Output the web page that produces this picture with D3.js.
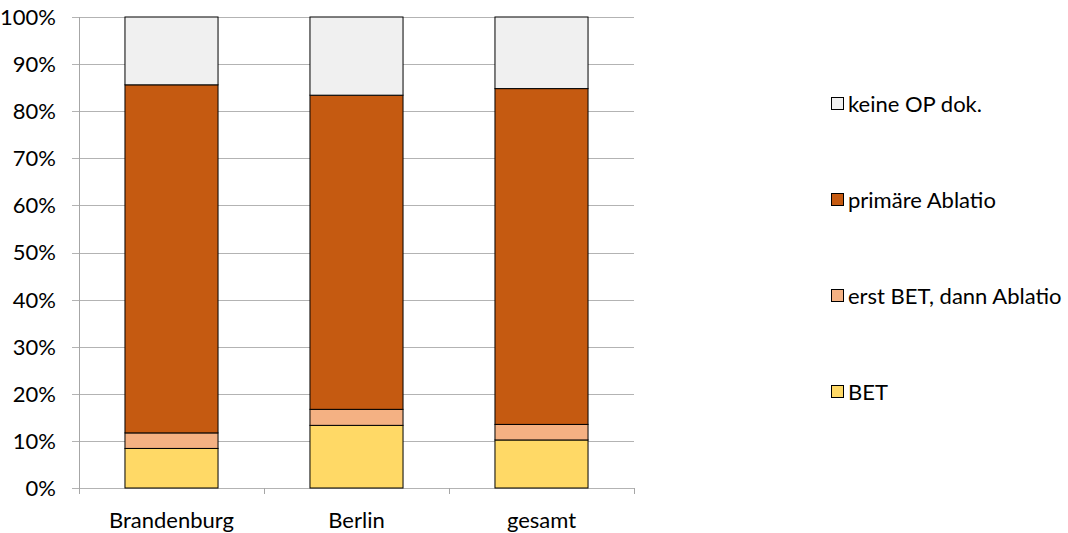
<!DOCTYPE html>
<html>
<head>
<meta charset="utf-8">
<script src="https://cdn.jsdelivr.net/npm/d3@7"></script>
<style>
  html, body { margin: 0; padding: 0; background: #fff; }
  svg text { font-family: Lato, "Open Sans", sans-serif; fill: #000; }
</style>
</head>
<body>
<svg id="chart" width="1068" height="533"></svg>
<script>
const categories = ["Brandenburg", "Berlin", "gesamt"];
const seriesNames = ["BET", "erst BET, dann Ablatio", "primäre Ablatio", "keine OP dok."];
const BET = [8.4, 13.3, 10.2];
const erstBET = [3.3, 3.4, 3.3];
const primaer = [73.9, 66.7, 71.3];
const keineOP = [14.4, 16.6, 15.2];
const yTicks = [0, 10, 20, 30, 40, 50, 60, 70, 80, 90, 100];
const colors = ["#ffd966", "#f4b183", "#c55a11", "#f0f0f0"];

const seriesValues = [BET, erstBET, primaer, keineOP];
const rows = categories.map((c, i) => {
  const r = { cat: c };
  seriesNames.forEach((s, j) => r[s] = seriesValues[j][i]);
  return r;
});

const svg = d3.select("#chart");
const plot = { left: 79, right: 634, top: 17, bottom: 488 };

const x = d3.scaleBand().domain(categories).range([plot.left, plot.right]).paddingInner(0).paddingOuter(0);
const y = d3.scaleLinear().domain([0, 100]).range([plot.bottom, plot.top]);

// gridlines
svg.append("g").selectAll("line").data(yTicks).join("line")
  .attr("x1", plot.left - 7).attr("x2", plot.right)
  .attr("y1", d => Math.round(y(d)) + 0.5).attr("y2", d => Math.round(y(d)) + 0.5)
  .attr("stroke", "#b3b3b3").attr("stroke-width", 1);

// y axis line
svg.append("line")
  .attr("x1", plot.left + 0.5).attr("x2", plot.left + 0.5)
  .attr("y1", plot.top).attr("y2", plot.bottom + 6)
  .attr("stroke", "#a6a6a6");

// x axis ticks at band boundaries
const bounds = categories.map(c => x(c)).concat([x(categories[categories.length - 1]) + x.bandwidth()]);
svg.append("g").selectAll("line").data(bounds.slice(1)).join("line")
  .attr("x1", d => Math.round(d) + 0.5).attr("x2", d => Math.round(d) + 0.5)
  .attr("y1", plot.bottom).attr("y2", plot.bottom + 6)
  .attr("stroke", "#a6a6a6");

// y labels
svg.append("g").selectAll("text").data(yTicks).join("text")
  .attr("x", 56).attr("y", d => y(d))
  .attr("dy", "0.36em")
  .attr("text-anchor", "end")
  .attr("font-size", 22)
  .text(d => d + "%");

// x labels
svg.append("g").selectAll("text").data(categories).join("text")
  .attr("x", d => x(d) + x.bandwidth() / 2).attr("y", 528)
  .attr("text-anchor", "middle")
  .attr("font-size", 22)
  .text(d => d);

// stacked bars
const stack = d3.stack().keys(seriesNames)(rows);
const barW = x.bandwidth() * 0.503;
svg.append("g").selectAll("g").data(stack).join("g")
  .attr("fill", (d, i) => colors[i])
  .selectAll("rect").data(d => d).join("rect")
  .attr("x", d => x(d.data.cat) + (x.bandwidth() - barW) / 2)
  .attr("y", d => y(d[1]))
  .attr("width", barW)
  .attr("height", d => y(d[0]) - y(d[1]))
  .attr("stroke", "#000").attr("stroke-width", 1);

// legend (top: keine OP dok.)
const legendOrder = seriesNames.map((s, i) => ({ name: s, color: colors[i] })).reverse();
const lg = svg.append("g").selectAll("g").data(legendOrder).join("g")
  .attr("transform", (d, i) => `translate(831, ${104 + i * 96})`);
lg.append("rect").attr("x", 0.5).attr("y", -6.5).attr("width", 12).attr("height", 12)
  .attr("fill", d => d.color).attr("stroke", "#000").attr("stroke-width", 1);
lg.append("text").attr("x", 17).attr("y", 0).attr("dy", "0.36em")
  .attr("font-size", 22).text(d => d.name);
</script>
</body>
</html>
